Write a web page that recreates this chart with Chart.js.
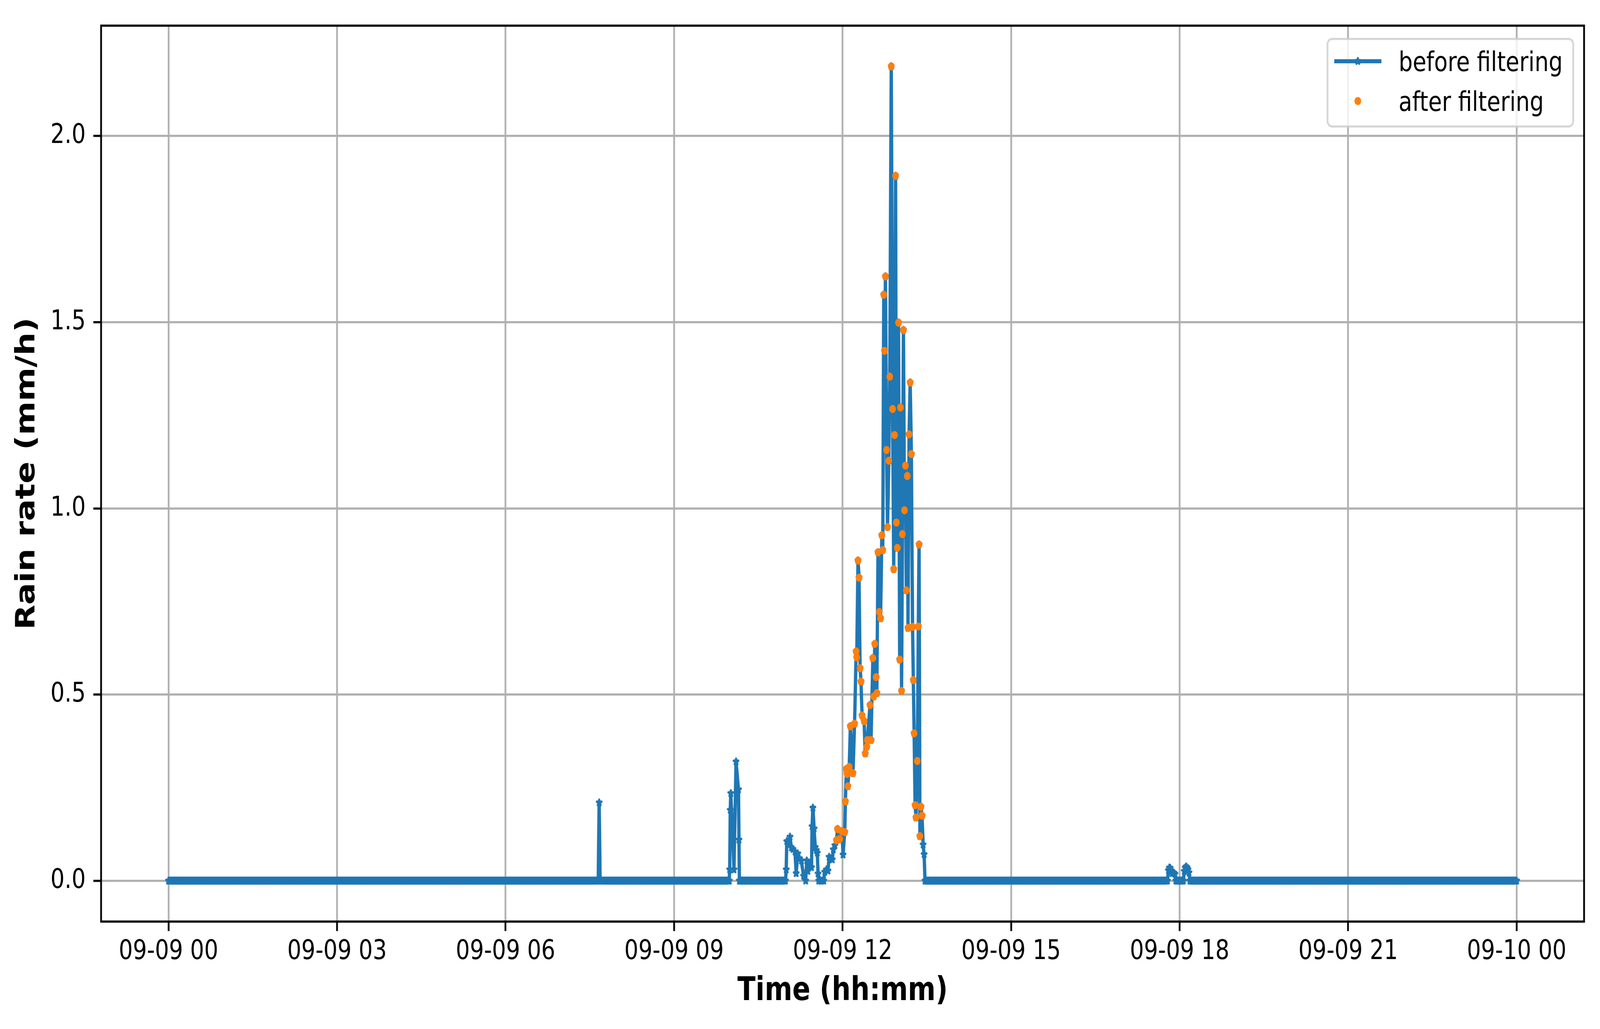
<!DOCTYPE html>
<html>
<head>
<meta charset="utf-8">
<title>Rain rate before / after filtering</title>
<script src="https://cdn.jsdelivr.net/npm/chart.js@4.4.1/dist/chart.umd.min.js"></script>
<style>
  html, body { margin: 0; padding: 0; background: #fff; overflow: hidden; }
  #rainChart { display: block; width: 100vw; height: 100vh; }
</style>
</head>
<body>
<!-- drawn at 5017x2634 and stretched to the window, which may be narrower -->
<canvas id="rainChart" width="5017" height="2634" style="width:100vw;height:100vh"></canvas>
<script>
// x values are minutes since 09-09 00:00
const timeTicks = [0, 180, 360, 540, 720, 900, 1080, 1260, 1440];
const timeTickLabels = ['09-09 00', '09-09 03', '09-09 06', '09-09 09', '09-09 12',
                        '09-09 15', '09-09 18', '09-09 21', '09-10 00'];
const rateTicks = [0, 0.5, 1, 1.5, 2];
const rateTickLabels = ['0.0', '0.5', '1.0', '1.5', '2.0'];

// 0 mm/h on every 1-minute sample inside these periods [from, to]
const dryPeriods = [[0, 459], [461, 599], [610, 659], [808, 1067], [1076, 1084], [1091, 1440]];

// samples with rain (minute, mm/h)
const wetMinutes = [
  460,
  599.4, 600.0, 600.6, 602.5, 604.0, 606.2, 608.8, 609.3, 609.8,
  659.8, 660.4, 661.8, 663.8, 665.3, 667.0, 669.2, 670.4, 672.1, 674.0,
  676.0, 678.3, 680.6, 681.7, 682.9, 684.5, 686.8, 687.4, 688.3, 689.6,
  690.8, 692.0, 693.0, 693.8, 694.5, 696.5, 698.0, 699.9, 701.0, 702.7,
  704.4, 705.6, 707.2, 709.0, 710.1, 711.8,
  713.5, 714.6, 716.9, 719.2, 720.5, 722.3, 723.0, 724.0, 724.9, 725.6,
  727.1, 728.3, 731.1, 732.8, 734.5, 735.1, 736.5, 737.6, 738.7, 739.7,
  740.8, 743.0, 744.2, 745.9, 746.4, 749.3, 750.4, 752.3, 753.2, 754.4,
  755.8, 756.6, 757.8, 759.2, 760.6, 761.9, 762.9, 764.0, 764.8, 765.8,
  767.0, 768.0, 769.4, 770.4, 772.0, 773.4, 774.6, 775.5, 776.6, 777.5,
  778.5, 779.7, 781.0, 781.8, 783.0, 783.9, 785.0, 786.1, 787.1, 788.1,
  789.1, 789.9, 791.0, 792.2, 793.5, 794.7, 795.6, 796.4, 797.5, 798.4,
  799.8, 800.9, 801.7, 802.6, 803.7, 804.9, 806.0, 807.1,
  1068, 1069, 1070, 1071, 1072, 1073, 1074, 1075,
  1085, 1086, 1087, 1088, 1089, 1090
];
const wetRates = [
  0.21,
  0.03, 0.19, 0.235, 0.13, 0.03, 0.32, 0.245, 0.11, 0,
  0.03, 0.106, 0.10, 0.118, 0.089, 0.085, 0.078, 0.02, 0.073, 0.06,
  0.054, 0.013, 0, 0.054, 0.026, 0.048, 0.036, 0.146, 0.196, 0.14,
  0.09, 0.082, 0.075, 0.019, 0, 0, 0, 0, 0.024, 0.03,
  0.027, 0.064, 0.06, 0.057, 0.084, 0.095,
  0.109, 0.139, 0.112, 0.133, 0.070, 0.131, 0.213, 0.300, 0.287, 0.254,
  0.306, 0.415, 0.289, 0.422, 0.616, 0.600, 0.860, 0.814, 0.571, 0.535,
  0.444, 0.429, 0.342, 0.360, 0.378, 0.472, 0.378, 0.598, 0.495, 0.636,
  0.547, 0.504, 0.882, 0.722, 0.705, 0.928, 0.888, 1.574, 1.423, 1.623,
  1.157, 0.950, 1.128, 1.354, 2.187, 1.267, 0.837, 1.197, 1.893, 0.962,
  0.894, 1.499, 0.594, 1.271, 0.510, 0.931, 1.479, 0.995, 1.115, 0.780,
  1.087, 0.679, 1.199, 1.338, 1.146, 0.682, 0.539, 0.396, 0.203, 0.170,
  0.322, 0.683, 0.903, 0.120, 0.199, 0.175, 0.097, 0.071,
  0.028, 0.035, 0.034, 0.026, 0.02, 0.022, 0.021, 0.018,
  0.026, 0.035, 0.038, 0.035, 0.03, 0.022
];
// value kept by the filter, null where the sample was removed
const filteredRates = [
  null,
  null, null, null, null, null, null, null, null, null,
  null, null, null, null, null, null, null, null, null, null,
  null, null, null, null, null, null, null, null, null, null,
  null, null, null, null, null, null, null, null, null, null,
  null, null, null, null, null, null,
  0.109, 0.139, 0.112, 0.133, null, 0.131, 0.213, 0.300, 0.287, 0.254,
  0.306, 0.415, 0.289, 0.422, 0.616, 0.600, 0.860, 0.814, 0.571, 0.535,
  0.444, 0.429, 0.342, 0.360, 0.378, 0.472, 0.378, 0.598, 0.495, 0.636,
  0.547, 0.504, 0.882, 0.722, 0.705, 0.928, 0.888, 1.574, 1.423, 1.623,
  1.157, 0.950, 1.128, 1.354, 2.187, 1.267, 0.837, 1.197, 1.893, 0.962,
  0.894, 1.499, 0.594, 1.271, 0.510, 0.931, 1.479, 0.995, 1.115, 0.780,
  1.087, 0.679, 1.199, 1.338, 1.146, 0.682, 0.539, 0.396, 0.203, 0.170,
  0.322, 0.683, 0.903, 0.120, 0.199, 0.175, null, null,
  null, null, null, null, null, null, null, null,
  null, null, null, null, null, null
];

const BLUE = '#1f77b4';
const ORANGE = '#ff7f0e';
const FONT = 'DejaVu Sans';
const PT = 500 / 72; // figure was saved at 500 dpi

const beforePoints = [];
dryPeriods.forEach(([from, to]) => {
    for (let m = from; m <= to; m++) beforePoints.push({ x: m, y: 0 });
});
wetMinutes.forEach((m, i) => beforePoints.push({ x: m, y: wetRates[i] }));
beforePoints.sort((a, b) => a.x - b.x);

const afterPoints = [];
wetMinutes.forEach((m, i) => {
    if (filteredRates[i] !== null) afterPoints.push({ x: m, y: filteredRates[i] });
});

// filled 5 point star like matplotlib's '*'
const makeStar = (color) => {
    const c = document.createElement('canvas');
    c.width = 30;
    c.height = 30;
    const g = c.getContext('2d');
    const ro = 8, ri = ro * 0.382;
    g.beginPath();
    for (let k = 0; k < 10; k++) {
        const r = k % 2 ? ri : ro;
        const a = -Math.PI / 2 + k * Math.PI / 5;
        g.lineTo(15 + r * Math.cos(a), 15 + r * Math.sin(a));
    }
    g.closePath();
    g.fillStyle = color;
    g.fill();
    g.lineJoin = 'round';
    g.lineWidth = 6;
    g.strokeStyle = color;
    g.stroke();
    return c;
};
const starImg = makeStar(BLUE);

// black box round the plot area (spines)
const frame = {
    id: 'frame',
    afterDatasetsDraw(chart) {
        const { ctx, chartArea: a } = chart;
        ctx.save();
        ctx.strokeStyle = '#000';
        ctx.lineWidth = 0.8 * PT;
        ctx.strokeRect(a.left, a.top, a.right - a.left, a.bottom - a.top);
        ctx.restore();
    }
};

// legend drawn inside the axes, upper right
const innerLegend = {
    id: 'innerLegend',
    afterDraw(chart) {
        const { ctx, chartArea: a } = chart;
        const sets = chart.data.datasets;
        ctx.save();
        ctx.font = `${10 * PT}px "${FONT}"`;
        const textW = Math.max(...sets.map(d => ctx.measureText(d.label).width));
        const boxW = 223 + textW + 33;
        const boxH = 224;
        const boxR = a.right - 34;
        const boxL = boxR - boxW;
        const boxT = a.top + 34;
        ctx.beginPath();
        ctx.roundRect(boxL, boxT, boxW, boxH, 14);
        ctx.fillStyle = 'rgba(255,255,255,0.8)';
        ctx.fill();
        ctx.lineWidth = 0.8 * PT;
        ctx.strokeStyle = 'rgba(204,204,204,0.8)';
        ctx.stroke();

        const handleL = boxL + 21, handleR = boxL + 169, handleC = boxL + 95;
        const rowY = [boxT + 57, boxT + 159];

        // before filtering: line with a star
        ctx.beginPath();
        ctx.moveTo(handleL, rowY[0]);
        ctx.lineTo(handleR, rowY[0]);
        ctx.strokeStyle = BLUE;
        ctx.lineWidth = 1.5 * PT;
        ctx.stroke();
        ctx.drawImage(starImg, handleC - 15, rowY[0] - 15);

        // after filtering: dot only
        ctx.beginPath();
        ctx.arc(handleC, rowY[1], 1.5 * PT, 0, Math.PI * 2);
        ctx.fillStyle = ORANGE;
        ctx.fill();

        ctx.fillStyle = '#000';
        ctx.textBaseline = 'alphabetic';
        ctx.textAlign = 'left';
        sets.forEach((d, i) => ctx.fillText(d.label, boxL + 223, rowY[i] + 25));
        ctx.restore();
    }
};

const tickFont = { family: FONT, size: 10 * PT };
const titleFont = { family: FONT, size: 12 * PT, weight: 'bold' };
const gridStyle = {
    color: '#b0b0b0',
    lineWidth: 0.8 * PT,
    drawTicks: true,
    tickColor: '#000',
    tickWidth: 0.8 * PT,
    tickLength: 3.5 * PT
};

new Chart(document.getElementById('rainChart'), {
    type: 'line',
    data: {
        datasets: [{
            label: 'before filtering',
            data: beforePoints,
            borderColor: BLUE,
            backgroundColor: BLUE,
            borderWidth: 1.5 * PT,
            borderJoinStyle: 'round',
            tension: 0,
            pointStyle: starImg,
            pointRadius: 11,
            pointHoverRadius: 11,
            order: 2
        }, {
            label: 'after filtering',
            data: afterPoints,
            showLine: false,
            pointStyle: 'circle',
            pointRadius: 1.5 * PT,
            pointHoverRadius: 1.5 * PT,
            pointBackgroundColor: ORANGE,
            pointBorderWidth: 0,
            borderColor: ORANGE,
            backgroundColor: ORANGE,
            order: 1
        }]
    },
    options: {
        responsive: false,
        animation: false,
        devicePixelRatio: 1,
        events: [],
        layout: { padding: { top: 50, right: 50, bottom: 0, left: 0 } },
        plugins: {
            legend: { display: false },
            tooltip: { enabled: false }
        },
        scales: {
            x: {
                type: 'linear',
                min: -72,
                max: 1512,
                afterBuildTicks: (s) => { s.ticks = timeTicks.map(v => ({ value: v })); },
                afterFit: (s) => { s.height = 275; },
                ticks: {
                    callback: (v) => timeTickLabels[timeTicks.indexOf(v)],
                    font: tickFont,
                    color: '#000',
                    padding: 12,
                    maxRotation: 0,
                    autoSkip: false
                },
                grid: gridStyle,
                border: { display: false },
                title: {
                    display: true,
                    text: 'Time (hh:mm)',
                    font: titleFont,
                    color: '#000',
                    padding: { top: 0, bottom: 46 }
                }
            },
            y: {
                type: 'linear',
                min: -0.1094,
                max: 2.2964,
                afterBuildTicks: (s) => { s.ticks = rateTicks.map(v => ({ value: v })); },
                afterFit: (s) => { s.width = 317; },
                ticks: {
                    callback: (v) => rateTickLabels[rateTicks.indexOf(v)],
                    font: tickFont,
                    color: '#000',
                    padding: 24
                },
                grid: gridStyle,
                border: { display: false },
                title: {
                    display: true,
                    text: 'Rain rate (mm/h)',
                    font: titleFont,
                    color: '#000',
                    padding: { top: 36, bottom: 0 }
                }
            }
        }
    },
    plugins: [frame, innerLegend]
});
</script>
</body>
</html>
